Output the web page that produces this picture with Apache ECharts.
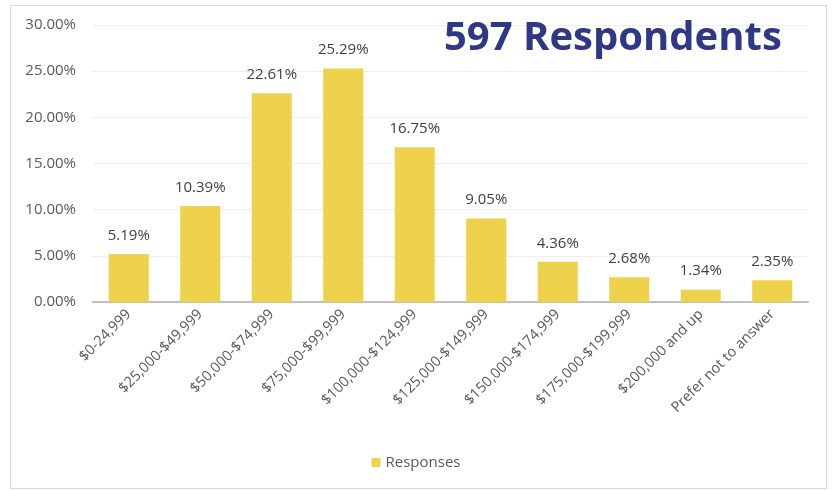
<!DOCTYPE html>
<html><head><meta charset="utf-8">
<script src="https://cdn.jsdelivr.net/npm/echarts@6/dist/echarts.min.js"></script>
<style>html,body{margin:0;padding:0;background:#fff}#c{width:832px;height:491px}
#frame{position:absolute;left:10px;top:5px;width:817px;height:484px;border:1.5px solid #D9D9D9;box-sizing:border-box;pointer-events:none}</style>
</head><body><div id="c"></div><div id="frame"></div>
<script>
const categories = ["$0-24,999","$25,000-$49,999","$50,000-$74,999","$75,000-$99,999","$100,000-$124,999","$125,000-$149,999","$150,000-$174,999","$175,000-$199,999","$200,000 and up","Prefer not to answer"];
const responses = [5.19,10.39,22.61,25.29,16.75,9.05,4.36,2.68,1.34,2.35];
const seriesName = "Responses";
const titleText = "597 Respondents";
const chart = echarts.init(document.getElementById('c'));
const font = "'Open Sans', 'Liberation Sans', sans-serif";
chart.setOption({
  animation:false,
  title:{text:titleText,left:439,top:14,textStyle:{fontFamily:"'Open Sans', sans-serif",fontWeight:'bold',fontSize:40,color:'#2E3886'}},
  legend:{bottom:16,left:'center',itemWidth:9,itemHeight:9,itemGap:6,icon:'rect',textStyle:{color:'#595959',fontSize:15,fontFamily:font}},
  grid:{left:93,right:24,top:25,bottom:189},
  xAxis:{type:'category',data:categories,
    axisLine:{lineStyle:{color:'#BFBFBF',width:2}},axisTick:{show:false},
    axisLabel:{rotate:45,interval:0,color:'#595959',fontSize:14.5,fontFamily:font,margin:10}},
  yAxis:{type:'value',min:0,max:30,interval:5,
    axisLabel:{formatter:v=>v.toFixed(2)+'%',color:'#595959',fontSize:15,fontFamily:font,margin:17},
    splitLine:{lineStyle:{color:'#EEEEEE'}},axisLine:{show:false},axisTick:{show:false}},
  series:[{name:seriesName,type:'bar',data:responses,barWidth:'56%',itemStyle:{color:'#EFD24B'},
    label:{show:true,position:'top',distance:11,formatter:p=>p.value.toFixed(2)+'%',color:'#404040',fontSize:15,fontFamily:font}}]
});
</script></body></html>
